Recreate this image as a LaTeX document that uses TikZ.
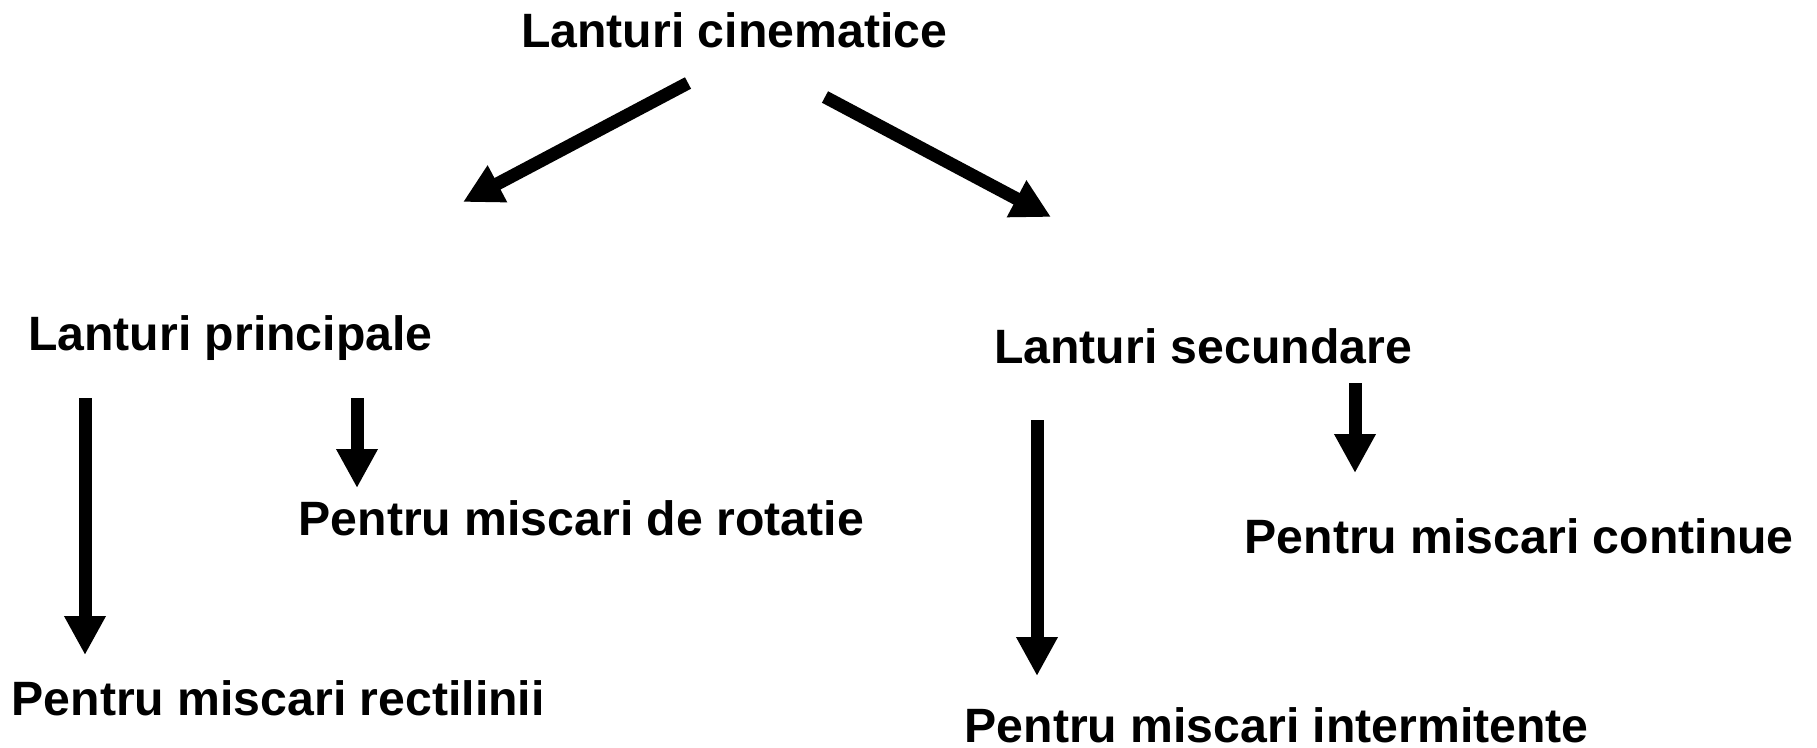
\documentclass[tikz,border=0pt]{standalone}
\usepackage{fontspec}
\setmainfont{Liberation Sans}
\usetikzlibrary{arrows.meta}
\begin{document}
\begin{tikzpicture}[x=1pt,y=-1pt,
  lbl/.style={anchor=base west,inner sep=0pt,font=\fontsize{48.2}{58}\selectfont\bfseries},
  bigarrow/.style={line width=13pt,-{Triangle[length=39pt,width=39pt]}}]
\useasboundingbox (0,0) rectangle (1817,747);
\fill[white] (0,0) rectangle (1817,747);
% texts
\node[lbl] (title) at (521,47) {Lanturi cinematice};
\node[lbl] (princ) at (28,350) {Lanturi principale};
\node[lbl] (sec) at (994,363) {Lanturi secundare};
\node[lbl] (rot) at (298.5,535) {Pentru miscari de rotatie};
\node[lbl] (cont) at (1244.5,553) {Pentru miscari continue};
\node[lbl] (rect) at (11.5,715) {Pentru miscari rectilinii};
\node[lbl,text depth=0pt] (inter) at (964.5,742) {Pentru miscari intermitente};
% arrow end points
\coordinate (tL0) at (688,83);
\coordinate (tL1) at (463,202);
\coordinate (tR0) at (825,97);
\coordinate (tR1) at (1051,217);
\coordinate (p1a) at (85,398);
\coordinate (p1b) at (85,655);
\coordinate (p2a) at (357,398);
\coordinate (p2b) at (357,488);
\coordinate (s1a) at (1037,420);
\coordinate (s1b) at (1037,676);
\coordinate (s2a) at (1355,383);
\coordinate (s2b) at (1355,473);
% connectors
\draw[bigarrow] (tL0) -- (tL1);
\draw[bigarrow] (tR0) -- (tR1);
\draw[bigarrow] (p1a) -- (p1b);
\draw[bigarrow] (p2a) -- (p2b);
\draw[bigarrow] (s1a) -- (s1b);
\draw[bigarrow] (s2a) -- (s2b);
\end{tikzpicture}
\end{document}
